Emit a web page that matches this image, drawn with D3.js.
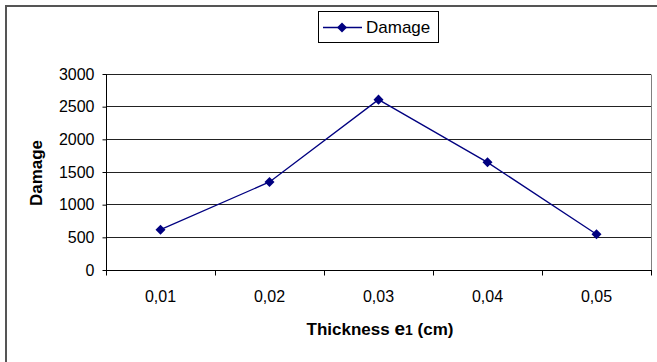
<!DOCTYPE html>
<html>
<head>
<meta charset="utf-8">
<script src="https://cdn.jsdelivr.net/npm/d3@7"></script>
<style>
  html, body { margin: 0; padding: 0; background: #fff; }
  svg { display: block; font-family: "Liberation Sans", Arial, sans-serif; }
</style>
</head>
<body>
<svg id="chart" width="657" height="362"></svg>
<script>
// Damage against thickness e1
const categories = ["0,01", "0,02", "0,03", "0,04", "0,05"];
const damage = [610, 1340, 2600, 1640, 540];
const yTicks = [0, 500, 1000, 1500, 2000, 2500, 3000];
const seriesName = "Damage";

const W = 657, H = 362;
const plot = { left: 106, right: 651, top: 73.5, bottom: 269.5 };
const navy = "#000080";

const svg = d3.select("#chart");

// outer chart frame (only top and left edges fall inside the view)
svg.append("path")
  .attr("d", `M6,${H + 2} V6 H${W + 2}`)
  .attr("fill", "none")
  .attr("stroke", "#555")
  .attr("stroke-width", 2);

const x = d3.scaleBand().domain(categories).range([plot.left, plot.right]);
const y = d3.scaleLinear().domain([0, 3000]).range([plot.bottom, plot.top]);

// horizontal gridlines
svg.append("g")
  .selectAll("line")
  .data(yTicks.filter(t => t > 0))
  .join("line")
  .attr("x1", plot.left).attr("x2", plot.right)
  .attr("y1", d => Math.round(y(d)) + 0.5).attr("y2", d => Math.round(y(d)) + 0.5)
  .attr("stroke", "#222")
  .attr("stroke-width", 1);

// right edge of the plot area
svg.append("line")
  .attr("x1", plot.right + 0.5).attr("x2", plot.right + 0.5)
  .attr("y1", Math.round(y(3000)) + 0.5).attr("y2", Math.round(y(0)) + 0.5)
  .attr("stroke", "#808080");

// y axis
const yAxis = d3.axisLeft(y).tickValues(yTicks).tickSize(4).tickPadding(8)
  .tickFormat(d3.format("d"));
svg.append("g")
  .attr("transform", `translate(${plot.left + 0.5},0.5)`)
  .call(yAxis)
  .call(g => g.select(".domain").attr("stroke", "#000").attr("d", `M0,${Math.round(y(3000))}V${Math.round(y(0))}`))
  .call(g => g.selectAll(".tick line").attr("stroke", "#000"))
  .call(g => g.selectAll(".tick text")
    .attr("font-size", 16).attr("fill", "#000")
    .attr("font-family", "'Liberation Sans', Arial, sans-serif"));

// x axis: line with ticks at category boundaries
const xg = svg.append("g").attr("transform", `translate(0,${Math.round(y(0)) + 0.5})`);
xg.append("line")
  .attr("x1", plot.left).attr("x2", plot.right + 1)
  .attr("stroke", "#000");
const bounds = categories.map(c => x(c)).concat([x(categories[categories.length - 1]) + x.bandwidth()]);
xg.selectAll("line.tk")
  .data(bounds)
  .join("line")
  .attr("class", "tk")
  .attr("x1", d => Math.round(d) + 0.5).attr("x2", d => Math.round(d) + 0.5)
  .attr("y1", 0).attr("y2", 5)
  .attr("stroke", "#000");
xg.selectAll("text")
  .data(categories)
  .join("text")
  .attr("x", d => x(d) + x.bandwidth() / 2)
  .attr("y", 31)
  .attr("text-anchor", "middle")
  .attr("font-size", 16)
  .attr("fill", "#000")
  .text(d => d);

// axis titles
const xt = svg.append("text")
  .attr("x", 380).attr("y", 335)
  .attr("text-anchor", "middle")
  .attr("font-size", 17)
  .attr("font-weight", "bold")
  .attr("fill", "#000");
xt.append("tspan").text("Thickness ");
xt.append("tspan").attr("font-size", 19).text("e");
xt.append("tspan").attr("font-size", 14).text("1");
xt.append("tspan").text(" (cm)");

svg.append("text")
  .attr("transform", `translate(42,173) rotate(-90)`)
  .attr("text-anchor", "middle")
  .attr("font-size", 17)
  .attr("font-weight", "bold")
  .attr("fill", "#000")
  .text("Damage");

// series line and diamond markers
const line = d3.line()
  .x((d, i) => x(categories[i]) + x.bandwidth() / 2)
  .y(d => y(d));
svg.append("path")
  .datum(damage)
  .attr("d", line)
  .attr("fill", "none")
  .attr("stroke", navy)
  .attr("stroke-width", 1.3);

const diamond = d3.symbol().type(d3.symbolDiamond2).size(64);
svg.append("g")
  .selectAll("path")
  .data(damage)
  .join("path")
  .attr("transform", (d, i) => `translate(${x(categories[i]) + x.bandwidth() / 2},${y(d)})`)
  .attr("d", diamond)
  .attr("fill", navy);

// legend
const lg = svg.append("g");
lg.append("rect")
  .attr("x", 318.5).attr("y", 11.5)
  .attr("width", 120).attr("height", 31)
  .attr("fill", "#fff")
  .attr("stroke", "#000");
lg.append("line")
  .attr("x1", 323).attr("x2", 362)
  .attr("y1", 27.5).attr("y2", 27.5)
  .attr("stroke", navy).attr("stroke-width", 1.3);
lg.append("path")
  .attr("transform", "translate(342,27.5)")
  .attr("d", diamond)
  .attr("fill", navy);
lg.append("text")
  .attr("x", 366).attr("y", 33)
  .attr("font-size", 17)
  .attr("fill", "#000")
  .text(seriesName);
</script>
</body>
</html>
